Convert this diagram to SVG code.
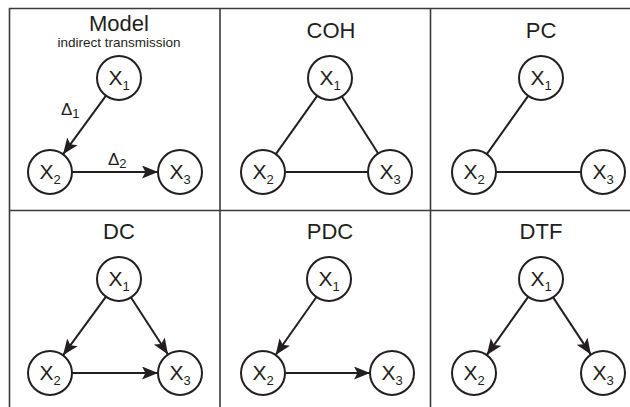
<svg xmlns="http://www.w3.org/2000/svg" width="630" height="407" viewBox="0 0 630 407">
<defs>
<marker id="ah" markerUnits="userSpaceOnUse" markerWidth="18" markerHeight="14" refX="16" refY="6.5" orient="auto">
<path d="M0,0 L16,6.5 L0,13 L3.5,6.5 z" fill="#231f20"/>
</marker>
<style>
.frame{stroke:#3a3a3a;stroke-width:1.6;fill:none}
.nd{fill:#fff;stroke:#231f20;stroke-width:2}
.lb{font-family:"Liberation Sans",Arial,sans-serif;font-size:21px;fill:#231f20;text-anchor:middle}
.sb{font-size:13px}
.dl{font-family:"Liberation Sans",Arial,sans-serif;font-size:17px;fill:#231f20}
.tt{font-family:"Liberation Sans",Arial,sans-serif;font-size:22px;fill:#231f20;text-anchor:middle}
.st{font-family:"Liberation Sans",Arial,sans-serif;font-size:13.5px;fill:#231f20;text-anchor:middle}
.ed{stroke:#231f20;stroke-width:2;fill:none}
.ar{marker-end:url(#ah)}
</style>
</defs>
<g id="frame">
<path class="frame" d="M9.5,407 V8.5 H630 M220,8.5 V407 M430.5,8.5 V407 M9.5,210.5 H630"/>
</g>
<g id="titles">
<text class="tt" x="119" y="31">Model</text>
<text class="st" x="119" y="47">indirect transmission</text>
<text class="tt" x="331" y="38">COH</text>
<text class="tt" x="541" y="38">PC</text>
<text class="tt" x="119" y="239">DC</text>
<text class="tt" x="330" y="239">PDC</text>
<text class="tt" x="541" y="239">DTF</text>
</g>
<g id="connectors">
<line class="ed ar" x1="106" y1="95.7" x2="63" y2="154.3"/>
<line class="ed ar" x1="72" y1="172" x2="158" y2="172"/>
<text class="dl" x="61" y="115">Δ<tspan class="sb" dy="3">1</tspan></text>
<text class="dl" x="108" y="165">Δ<tspan class="sb" dy="3">2</tspan></text>
<line class="ed" x1="317.2" y1="95.9" x2="275.8" y2="154.1"/>
<line class="ed" x1="341.8" y1="96.5" x2="378.2" y2="153.5"/>
<line class="ed" x1="285" y1="172" x2="368" y2="172"/>
<line class="ed" x1="528.2" y1="95.9" x2="486.8" y2="154.1"/>
<line class="ed" x1="496" y1="172" x2="581" y2="172"/>
<line class="ed ar" x1="106" y1="296.7" x2="63" y2="355.3"/>
<line class="ed ar" x1="131" y1="297.5" x2="168" y2="354.5"/>
<line class="ed ar" x1="72" y1="373" x2="158" y2="373"/>
<line class="ed ar" x1="316.4" y1="297" x2="275.6" y2="355"/>
<line class="ed ar" x1="285" y1="373" x2="370" y2="373"/>
<line class="ed ar" x1="528.2" y1="296.9" x2="486.8" y2="355.1"/>
<line class="ed ar" x1="553.1" y1="297.4" x2="590.9" y2="354.6"/>
</g>
<g id="model-x1"><circle class="nd" cx="119" cy="78" r="22"/><text class="lb" x="119" y="85">X<tspan class="sb" dy="5">1</tspan></text></g>
<g id="model-x2"><circle class="nd" cx="50" cy="172" r="22"/><text class="lb" x="50" y="179">X<tspan class="sb" dy="5">2</tspan></text></g>
<g id="model-x3"><circle class="nd" cx="180" cy="172" r="22"/><text class="lb" x="180" y="179">X<tspan class="sb" dy="5">3</tspan></text></g>
<g id="coh-x1"><circle class="nd" cx="330" cy="78" r="22"/><text class="lb" x="330" y="85">X<tspan class="sb" dy="5">1</tspan></text></g>
<g id="coh-x2"><circle class="nd" cx="263" cy="172" r="22"/><text class="lb" x="263" y="179">X<tspan class="sb" dy="5">2</tspan></text></g>
<g id="coh-x3"><circle class="nd" cx="390" cy="172" r="22"/><text class="lb" x="390" y="179">X<tspan class="sb" dy="5">3</tspan></text></g>
<g id="pc-x1"><circle class="nd" cx="541" cy="78" r="22"/><text class="lb" x="541" y="85">X<tspan class="sb" dy="5">1</tspan></text></g>
<g id="pc-x2"><circle class="nd" cx="474" cy="172" r="22"/><text class="lb" x="474" y="179">X<tspan class="sb" dy="5">2</tspan></text></g>
<g id="pc-x3"><circle class="nd" cx="603" cy="172" r="22"/><text class="lb" x="603" y="179">X<tspan class="sb" dy="5">3</tspan></text></g>
<g id="dc-x1"><circle class="nd" cx="119" cy="279" r="22"/><text class="lb" x="119" y="286">X<tspan class="sb" dy="5">1</tspan></text></g>
<g id="dc-x2"><circle class="nd" cx="50" cy="373" r="22"/><text class="lb" x="50" y="380">X<tspan class="sb" dy="5">2</tspan></text></g>
<g id="dc-x3"><circle class="nd" cx="180" cy="373" r="22"/><text class="lb" x="180" y="380">X<tspan class="sb" dy="5">3</tspan></text></g>
<g id="pdc-x1"><circle class="nd" cx="329" cy="279" r="22"/><text class="lb" x="329" y="286">X<tspan class="sb" dy="5">1</tspan></text></g>
<g id="pdc-x2"><circle class="nd" cx="263" cy="373" r="22"/><text class="lb" x="263" y="380">X<tspan class="sb" dy="5">2</tspan></text></g>
<g id="pdc-x3"><circle class="nd" cx="392" cy="373" r="22"/><text class="lb" x="392" y="380">X<tspan class="sb" dy="5">3</tspan></text></g>
<g id="dtf-x1"><circle class="nd" cx="541" cy="279" r="22"/><text class="lb" x="541" y="286">X<tspan class="sb" dy="5">1</tspan></text></g>
<g id="dtf-x2"><circle class="nd" cx="474" cy="373" r="22"/><text class="lb" x="474" y="380">X<tspan class="sb" dy="5">2</tspan></text></g>
<g id="dtf-x3"><circle class="nd" cx="603" cy="373" r="22"/><text class="lb" x="603" y="380">X<tspan class="sb" dy="5">3</tspan></text></g>
</svg>
